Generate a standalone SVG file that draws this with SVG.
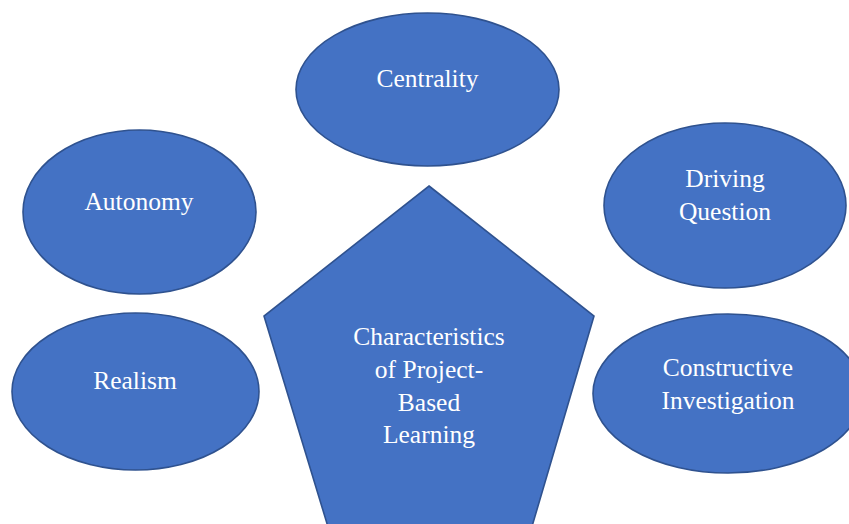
<svg xmlns="http://www.w3.org/2000/svg" width="849" height="524" viewBox="0 0 849 524">
<style>
.s{fill:#4472C4;stroke:#2F528F;stroke-width:1.6}
.t{font-family:"Liberation Serif","Times New Roman",serif;font-size:25.5px;fill:#FFFFFF;text-anchor:middle}
</style>
<rect width="849" height="524" fill="#FFFFFF"/>
<g id="connectors"></g>
<g id="centrality">
<ellipse class="s" cx="427.5" cy="89.5" rx="131.5" ry="76.5"/>
<text class="t" x="427.5" y="87">Centrality</text>
</g>
<g id="autonomy">
<ellipse class="s" cx="139.5" cy="212" rx="116.5" ry="82"/>
<text class="t" x="139" y="210">Autonomy</text>
</g>
<g id="driving-question">
<ellipse class="s" cx="725" cy="205.5" rx="121" ry="82.5"/>
<text class="t" x="725" y="187">Driving</text>
<text class="t" x="725" y="220">Question</text>
</g>
<g id="realism">
<ellipse class="s" cx="135.5" cy="391.5" rx="123.5" ry="78.5"/>
<text class="t" x="135" y="389">Realism</text>
</g>
<g id="constructive-investigation">
<ellipse class="s" cx="728" cy="393.5" rx="135" ry="79.5"/>
<text class="t" x="728" y="376">Constructive</text>
<text class="t" x="728" y="409">Investigation</text>
</g>
<g id="pbl">
<polygon class="s" points="429,186 594,316 528,540 332,540 264,316"/>
<text class="t" x="429" y="345">Characteristics</text>
<text class="t" x="429" y="378">of Project-</text>
<text class="t" x="429" y="411">Based</text>
<text class="t" x="429" y="443">Learning</text>
</g>
</svg>
